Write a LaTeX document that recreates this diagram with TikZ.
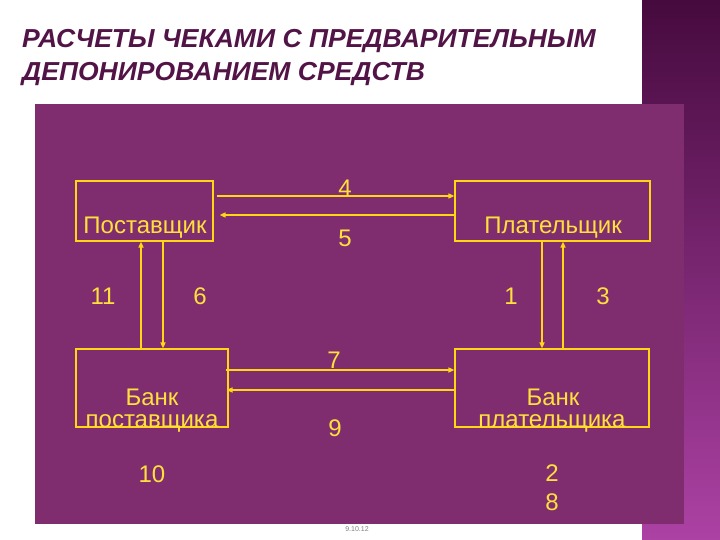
\documentclass[tikz,border=0pt]{standalone}
\usepackage{fontspec}
\setmainfont{Liberation Sans}
\usepackage{tikz}
\usetikzlibrary{
  calc,          % shifted connector ends
  arrows.meta    % small filled arrow tips
}
\definecolor{panelpurple}{RGB}{127,45,111}
\definecolor{titlepurple}{RGB}{82,20,70}
\definecolor{lineyellow}{RGB}{255,214,20}
\definecolor{textyellow}{RGB}{255,224,60}
\definecolor{stripdark}{RGB}{70,10,62}
\definecolor{striplight}{RGB}{172,66,164}

\begin{document}
\begin{tikzpicture}[x=1pt, y=-1pt,
    box/.style={draw=lineyellow, line width=1.2pt, rectangle, inner sep=0pt},
    boxtext/.style={text=textyellow, font=\fontsize{24}{26}\selectfont, inner sep=0pt},
    num/.style={text=textyellow, font=\fontsize{24}{26}\selectfont, inner sep=0pt},
    title/.style={anchor=base west, inner sep=0pt, text=titlepurple,
                  font=\fontsize{26}{28}\selectfont\bfseries\itshape},
    link/.style={draw=lineyellow, line width=1.5pt, -{Triangle[length=6pt,width=5pt]}},
    thickpart/.style={draw=lineyellow, line width=2.6pt}]
    \useasboundingbox (0,0) rectangle (720,540);

            % Background, side strip and panel
            \fill[white] (0,0) rectangle (720,540);
            \shade[top color=stripdark, bottom color=striplight] (642,0) rectangle (720,540);
            \fill[panelpurple] (35,104) rectangle (684,524);

            % Title
            \node[title] (title1) at (22,48)
                {\scalebox{1.02}[1]{РАСЧЕТЫ ЧЕКАМИ С ПРЕДВАРИТЕЛЬНЫМ}};
            \node[title] (title2) at (22,81)
                {\scalebox{1.02}[1]{ДЕПОНИРОВАНИЕМ СРЕДСТВ}};

            % Boxes
            \node[box, minimum width=137pt, minimum height=60pt] (sup) at (144.5,211) {};
            \node[box, minimum width=195pt, minimum height=60pt] (pay) at (552.5,211) {};
            \node[box, minimum width=152pt, minimum height=78pt] (bsup) at (152,388) {};
            \node[box, minimum width=194pt, minimum height=78pt] (bpay) at (552,388) {};

            % Box texts
            \node[boxtext] (sup-t) at (145,228) {Поставщик};
            \node[boxtext] (pay-t) at (553,228) {Плательщик};
            \node[boxtext] (bsup-t1) at (152,397) {Банк};
            \node[boxtext] (bsup-t2) at (152,423) {поставщика};
            \node[boxtext] (bpay-t1) at (553,397) {Банк};
            \node[boxtext] (bpay-t2) at (552,423) {плательщика};

            % Columns of the vertical links
            \coordinate (c11) at (141,0);
            \coordinate (c6) at (163,0);
            \coordinate (c1) at (542,0);
            \coordinate (c3) at (563,0);

            % Links between the two upper boxes
            \draw[link] ([xshift=3pt,yshift=15pt]sup.east) -- ([yshift=15pt]pay.west);
            \draw[link] ([yshift=-4pt]pay.west) -- ([xshift=6pt,yshift=-4pt]sup.east);
            \draw[thickpart] ([yshift=-4pt]pay.west) -- +(-82pt,0);

            % Links between the two banks
            \draw[link] ([xshift=-3pt,yshift=18pt]bsup.east) -- ([yshift=18pt]bpay.west);
            \draw[link] ([yshift=-2pt]bpay.west) -- ([xshift=-2pt,yshift=-2pt]bsup.east);
            \draw[thickpart] ([yshift=-2pt]bpay.west) -- +(-85pt,0);

            % Vertical links
            \draw[link] (bsup.north -| c11) -- (sup.south -| c11);
            \draw[link] (sup.south -| c6) -- (bsup.north -| c6);
            \draw[link] (pay.south -| c1) -- (bpay.north -| c1);
            \draw[link] (bpay.north -| c3) -- (pay.south -| c3);

            % Step numbers
            \node[num] (n4) at (345,188) {4};
            \node[num] (n5) at (345,238) {5};
            \node[num] (n11) at (103,296) {11};
            \node[num] (n6) at (200,296) {6};
            \node[num] (n1) at (511,296) {1};
            \node[num] (n3) at (603,296) {3};
            \node[num] (n7) at (334,360) {7};
            \node[num] (n9) at (335,428) {9};
            \node[num] (n10) at (152,474) {10};
            \node[num] (n2) at (552,473) {2};
            \node[num] (n8) at (552,502) {8};

            % Date
            \node[text=gray, font=\fontsize{7}{8}\selectfont, inner sep=0pt] (date) at (357,529) {9.10.12};
        \end{tikzpicture}
\end{document}
